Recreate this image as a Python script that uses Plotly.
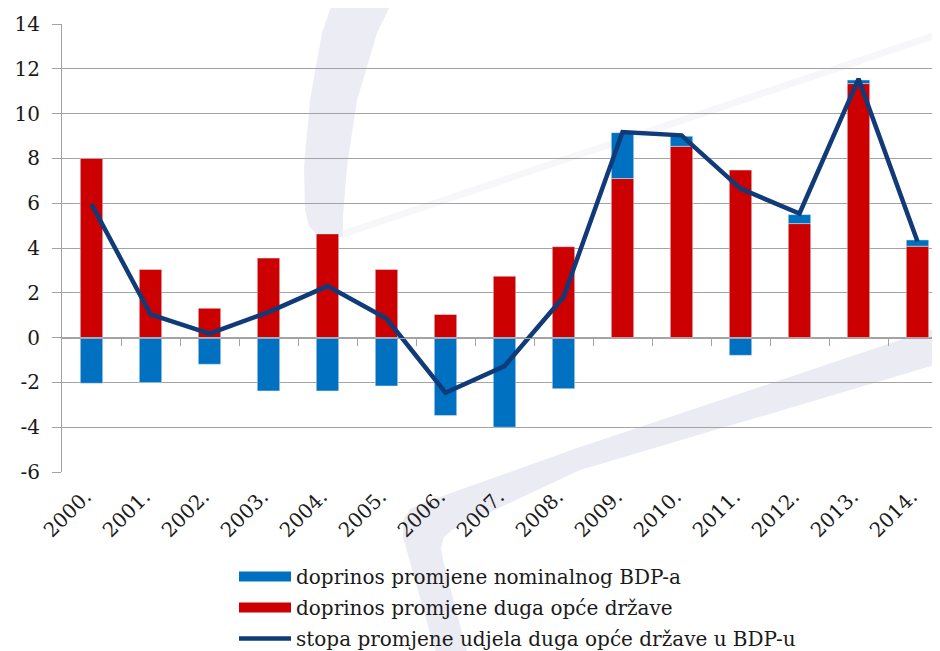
import plotly.graph_objects as go

# ---- data ----
years = ["2000.", "2001.", "2002.", "2003.", "2004.", "2005.", "2006.", "2007.",
         "2008.", "2009.", "2010.", "2011.", "2012.", "2013.", "2014."]
nominal_gdp = [-2.04, -2.01, -1.19, -2.38, -2.38, -2.16, -3.48, -4.0,
               -2.28, 2.05, 0.45, -0.79, 0.40, 0.16, 0.28]
debt = [8.0, 3.04, 1.31, 3.55, 4.63, 3.04, 1.03, 2.74,
        4.06, 7.10, 8.54, 7.48, 5.09, 11.34, 4.08]
ratio_change = [5.96, 1.04, 0.18, 1.14, 2.30, 0.85, -2.46, -1.27,
                1.81, 9.18, 9.03, 6.65, 5.54, 11.55, 4.29]
y_ticks = [-6, -4, -2, 0, 2, 4, 6, 8, 10, 12, 14]

name_gdp = "doprinos promjene nominalnog BDP-a"
name_debt = "doprinos promjene duga opće države"
name_ratio = "stopa promjene udjela duga opće države u BDP-u"

RED = "#cc0000"
BLUE = "#0070c0"
NAVY = "#113a78"
GRID = "#a3a3a3"
TXT = "#1a1a1a"
FONT = "DejaVu Serif"

# The page body has an 8px margin, so the figure is sized/offset to fill the window.
OFF = 8
WIN_W, WIN_H = 940, 651
W, H = WIN_W - OFF, WIN_H - OFF
L, T = 62 - OFF, 24 - OFF
plot_bottom = 472 - OFF
R = 0
B = H - plot_bottom
plot_w = W - L - R
plot_h = H - T - B
cat_px = 59.0
x_range = [-0.5, -0.5 + plot_w / cat_px]
y_range = [y_ticks[0], y_ticks[-1]]

fig = go.Figure()

# bars (legend handled by proxy entries below)
fig.add_trace(go.Bar(x=years, y=debt, name=name_debt, marker_color=RED,
                     width=0.38, showlegend=False, hoverinfo="y"))
fig.add_trace(go.Bar(x=years, y=nominal_gdp, name=name_gdp, marker_color=BLUE,
                     width=0.38, showlegend=False, hoverinfo="y"))
fig.add_trace(go.Scatter(x=years, y=ratio_change, name=name_ratio, mode="lines",
                         line=dict(color=NAVY, width=4.5), showlegend=False))

# legend proxies with wide swatches
for nm, col, w, grp in [(name_gdp, BLUE, 13, "a"), (name_debt, RED, 13, "b"),
                        (name_ratio, NAVY, 4.5, "c")]:
    fig.add_trace(go.Scatter(x=[None], y=[None], mode="lines", name=nm,
                             line=dict(color=col, width=w), legendgroup=grp,
                             showlegend=True, hoverinfo="skip"))

# helper axis that draws the category-boundary ticks on the zero line
bounds = [i + 0.5 for i in range(len(years) - 1)]
fig.add_trace(go.Scatter(x=[None], y=[None], xaxis="x2", yaxis="y",
                         showlegend=False, hoverinfo="skip"))

# ---- watermark (background decoration), given in window pixels ----
def px2paper(pts):
    return [((px - OFF - L) / plot_w, (plot_bottom - (py - OFF)) / plot_h) for px, py in pts]

def path(pts):
    p = px2paper(pts)
    return "M" + " L".join(f"{x:.4f},{y:.4f}" for x, y in p) + " Z"

arc = [(334, -2), (322, 33), (310, 100), (304, 167), (305, 210), (309, 226),
       (316, 234), (328, 238), (343, 237), (343, 217), (347, 167), (352, 133),
       (357, 100), (367, 67), (377, 33), (394, -2)]
chevron = [(945, 325), (580, 447), (423, 503), (410, 509), (403, 520), (403, 537),
           (430, 633), (437, 655), (468, 655), (443, 560), (441, 548), (444, 537),
           (452, 530), (580, 470), (945, 362)]
shapes = [
    dict(type="path", path=path(arc), xref="paper", yref="paper", layer="below",
         fillcolor="rgb(236,236,244)", line=dict(width=0)),
    dict(type="path", path=path(chevron), xref="paper", yref="paper", layer="below",
         fillcolor="rgb(235,235,243)", line=dict(width=0)),
]
(fx0, fy0), (fx1, fy1) = px2paper([(343, 234), (945, 32)])
shapes.append(dict(type="line", x0=fx0, y0=fy0, x1=fx1, y1=fy1, xref="paper",
                   yref="paper", layer="below",
                   line=dict(color="rgb(247,247,250)", width=7)))

fig.update_layout(
    width=W, height=H,
    margin=dict(l=L, r=R, t=T, b=B, pad=0, autoexpand=False),
    paper_bgcolor="white", plot_bgcolor="rgba(0,0,0,0)",
    barmode="relative",
    font=dict(family=FONT, size=20, color=TXT),
    shapes=shapes,
    xaxis=dict(type="category", range=x_range, tickangle=-45, showgrid=False,
               zeroline=False, showline=False, ticks="",
               tickfont=dict(family=FONT, size=20, color=TXT),
               ticklabelstandoff=8, ticklabelshift=-6, automargin=False),
    xaxis2=dict(overlaying="x", anchor="free", position=-y_range[0] / (y_range[1] - y_range[0]),
                type="linear", range=x_range, tickvals=bounds, ticks="outside",
                ticklen=7, tickwidth=1, tickcolor=GRID, showline=True,
                linecolor=GRID, linewidth=1, showgrid=False, zeroline=False,
                showticklabels=False, side="bottom", automargin=False),
    yaxis=dict(range=y_range, tickvals=y_ticks, ticktext=[str(v) for v in y_ticks],
               showgrid=True, gridcolor=GRID, gridwidth=1,
               zeroline=False, showline=True, linecolor=GRID, linewidth=1,
               ticks="outside", ticklen=9, tickcolor=GRID,
               tickfont=dict(family=FONT, size=20, color=TXT),
               ticklabelstandoff=8, automargin=False),
    legend=dict(orientation="v", xref="container", yref="container",
                x=226 / W, y=(H - 549) / H, xanchor="left", yanchor="top",
                itemwidth=52, tracegroupgap=2, bgcolor="rgba(0,0,0,0)",
                font=dict(family=FONT, size=20, color=TXT),
                itemclick=False),
    showlegend=True,
)

fig.write_html("out.html")
